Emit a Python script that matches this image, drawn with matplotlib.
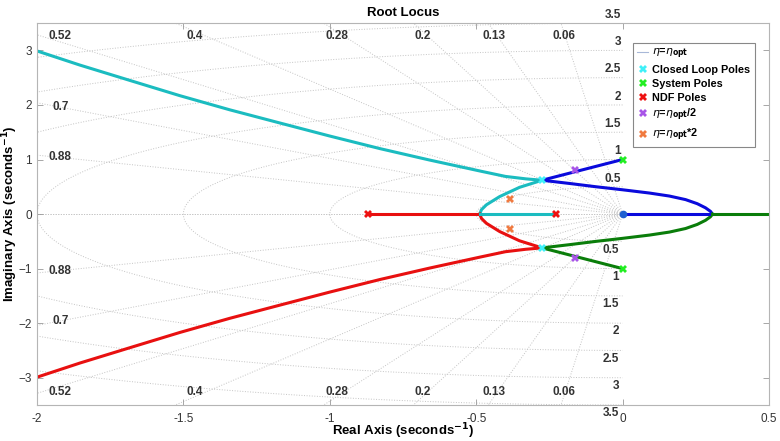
import numpy as np
import matplotlib
matplotlib.use('Agg')
import matplotlib.pyplot as plt
from matplotlib.lines import Line2D

plt.rcParams['font.family'] = ['Liberation Sans', 'DejaVu Sans']
plt.rcParams['mathtext.fontset'] = 'dejavusans'

# 根轨迹各分支（上半平面，下半平面取共轭）
far_x = [-0.275, -0.33, -0.40, -0.488, -0.659, -0.829, -1.0, -1.171, -1.341, -1.512, -1.683, -1.853, -2.0]
far_y = [0.62, 0.645, 0.69, 0.79, 0.99, 1.20, 1.43, 1.67, 1.91, 2.17, 2.45, 2.73, 2.99]
bulge_x = [-0.275, -0.18, -0.09, 0.0, 0.092, 0.16, 0.215, 0.255, 0.283, 0.300, 0.307]
bulge_y = [0.62, 0.56, 0.50, 0.445, 0.385, 0.33, 0.265, 0.19, 0.115, 0.05, 0.0]
arc_x = [-0.275, -0.352, -0.420, -0.465, -0.482, -0.488]
arc_y = [0.62, 0.49, 0.32, 0.17, 0.08, 0.0]

# 实轴上的分支
breakin = -0.488
breakaway = 0.307
ndf_poles = [-0.870, -0.229]

# 极点
sys_poles = [(0.0, 1.0), (0.0, -1.0)]
cl_poles = [(-0.275, 0.62), (-0.275, -0.62)]
half_poles = [(-0.164, 0.80), (-0.164, -0.80)]
double_poles = [(-0.386, 0.27), (-0.386, -0.27)]

# sgrid 的阻尼比和自然频率
zetas = [0.06, 0.13, 0.2, 0.28, 0.4, 0.52, 0.7, 0.88]
wns = [0.5, 1.0, 1.5, 2.0, 2.5, 3.0, 3.5]

c_cyan = '#1bbcc0'
c_blue = '#0a0adc'
c_red = '#e81010'
c_green = '#0a7d0a'
grid_c = '#c4c4c4'

fig = plt.figure(figsize=(7.8, 4.41), dpi=100)
ax = fig.add_axes([0.0474, 0.0816, 0.9385, 0.866])

# 网格：阻尼线与等频率圆
for z in zetas + [1.0]:
    s = np.sqrt(1 - z ** 2)
    ax.plot([0, -z * 6], [0, s * 6], ':', color=grid_c, lw=0.7, zorder=0)
    ax.plot([0, -z * 6], [0, -s * 6], ':', color=grid_c, lw=0.7, zorder=0)
th = np.linspace(np.pi / 2, 3 * np.pi / 2, 200)
for w in wns:
    ax.plot(w * np.cos(th), w * np.sin(th), ':', color=grid_c, lw=0.7, zorder=0)

lab_kw = dict(fontsize=8.5, fontweight='bold', color='#333333', clip_on=False)
for z in zetas:
    t = z / np.sqrt(1 - z ** 2)
    if 3.35 * t < 1.92:
        x, y = -3.35 * t, 3.26
    elif 1.93 / t > 3.0:
        x, y = -1.92, 3.26
    else:
        x, y = -1.92, 1.93 / t
    ax.text(x, y, str(z), ha='center', va='center', **lab_kw)
    ax.text(x, -y, str(z), ha='center', va='center', **lab_kw)
for w in wns:
    ax.text(-0.005, w + 0.15, '%g' % w, ha='right', va='center', **lab_kw)
    ax.text(-0.012, -w - 0.15, '%g' % w, ha='right', va='center', **lab_kw)

# 画根轨迹
fx, fy = np.array(far_x), np.array(far_y)
bx, by = np.array(bulge_x), np.array(bulge_y)
cx, cy = np.array(arc_x), np.array(arc_y)
lw = 2.2
ax.plot(fx, fy, color=c_cyan, lw=lw, solid_joinstyle='round')
ax.plot(fx, -fy, color=c_red, lw=lw, solid_joinstyle='round')
ax.plot(bx, by, color=c_blue, lw=lw, solid_joinstyle='round')
ax.plot(bx, -by, color=c_green, lw=lw, solid_joinstyle='round')
ax.plot(cx, cy, color=c_cyan, lw=lw, solid_joinstyle='round')
ax.plot(cx, -cy, color=c_red, lw=lw, solid_joinstyle='round')
ax.plot([cl_poles[0][0], sys_poles[0][0]], [cl_poles[0][1], sys_poles[0][1]], color=c_blue, lw=lw)
ax.plot([cl_poles[1][0], sys_poles[1][0]], [cl_poles[1][1], sys_poles[1][1]], color=c_green, lw=lw)
ax.plot([ndf_poles[0], breakin], [0, 0], color=c_red, lw=lw)
ax.plot([breakin, ndf_poles[1]], [0, 0], color=c_cyan, lw=lw)
ax.plot([0, breakaway], [0, 0], color=c_blue, lw=lw)
ax.plot([breakaway, 0.6], [0, 0], color=c_green, lw=lw)
ax.plot(0, 0, 'o', color='#1f5fd0', ms=4.5)

mk = dict(marker='X', ls='none', ms=6, markeredgewidth=0)
ax.plot(*zip(*cl_poles), color='#3ff0f8', **mk)
ax.plot(*zip(*sys_poles), color='#22ee22', **mk)
ax.plot(ndf_poles, [0, 0], color='#ee1111', **mk)
ax.plot(*zip(*half_poles), color='#a855e8', **mk)
ax.plot(*zip(*double_poles), color='#f07a40', **mk)

ax.set_xlim(-2, 0.5)
ax.set_ylim(-3.5, 3.5)
ax.set_xticks([-2, -1.5, -1, -0.5, 0, 0.5])
ax.set_xticklabels(['-2', '-1.5', '-1', '-0.5', '0', '0.5'])
ax.set_yticks([-3, -2, -1, 0, 1, 2, 3])
ax.tick_params(direction='in', length=4, width=0.6, colors='#999999',
               labelcolor='#333333', labelsize=8.5, top=True, right=True)
ax.tick_params(axis='x', pad=6)
for sp in ax.spines.values():
    sp.set_color('#b5b5b5')
    sp.set_linewidth(0.8)

ax.set_title('Root Locus', fontsize=9.5, fontweight='bold', pad=5)
ax.set_xlabel('Real Axis (seconds$^{\\mathbf{-1}}$)', fontsize=9.5, fontweight='bold', labelpad=-3)
ax.set_ylabel('Imaginary Axis (seconds$^{\\mathbf{-1}}$)', fontsize=9.5, fontweight='bold', labelpad=-1)

handles = [
    Line2D([], [], color='#a8b8d8', lw=0.8),
    Line2D([], [], color='#3ff0f8', **mk),
    Line2D([], [], color='#22ee22', **mk),
    Line2D([], [], color='#ee1111', **mk),
    Line2D([], [], color='#a855e8', **mk),
    Line2D([], [], color='#f07a40', **mk),
]
labels = [r'$\eta$=$\eta_{\mathbf{opt}}$', 'Closed Loop Poles', 'System Poles', 'NDF Poles',
          r'$\eta$=$\eta_{\mathbf{opt}}$/2', r'$\eta$=$\eta_{\mathbf{opt}}$*2']
leg = ax.legend(handles, labels, loc='upper right', bbox_to_anchor=(0.988, 0.963),
                prop={'weight': 'bold', 'size': 7.8}, handlelength=1.0, handletextpad=0.4,
                borderpad=0.4, labelspacing=0.35, frameon=True, fancybox=False,
                edgecolor='#888888', framealpha=1)
leg.get_frame().set_linewidth(0.8)

plt.savefig('out.png', dpi=100)
